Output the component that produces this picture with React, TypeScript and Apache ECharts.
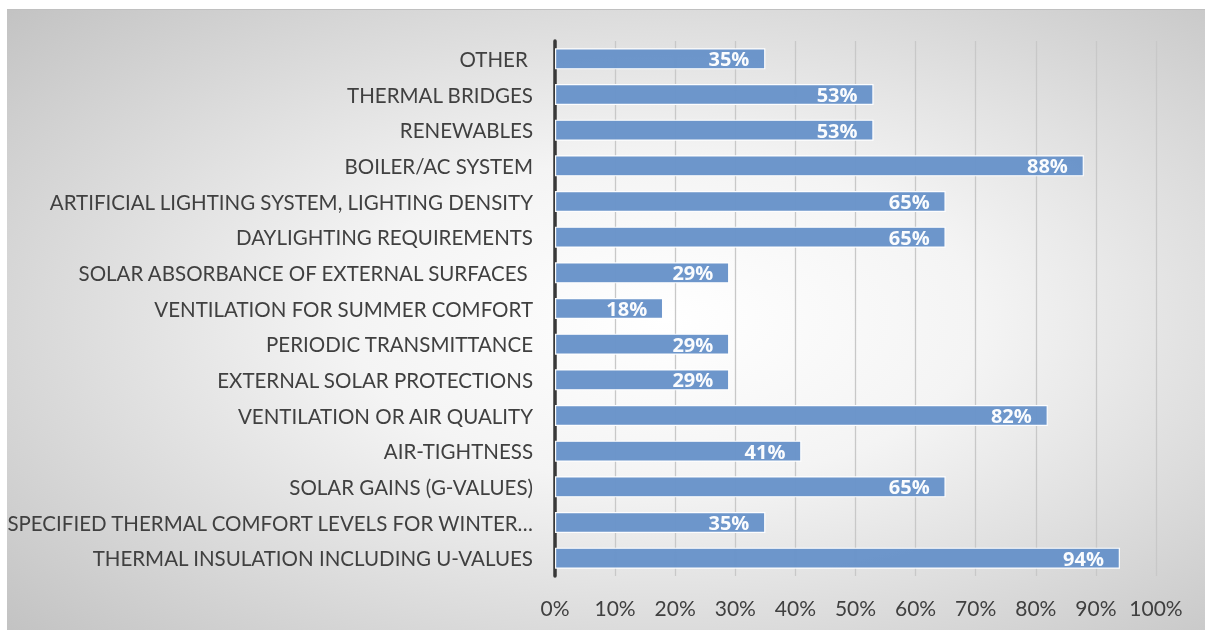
import React, { useEffect, useRef } from "react";
import * as echarts from "echarts";

const categories = [
  "OTHER ",
  "THERMAL BRIDGES",
  "RENEWABLES",
  "BOILER/AC SYSTEM",
  "ARTIFICIAL LIGHTING SYSTEM, LIGHTING DENSITY",
  "DAYLIGHTING REQUIREMENTS",
  "SOLAR ABSORBANCE OF EXTERNAL SURFACES ",
  "VENTILATION FOR SUMMER COMFORT",
  "PERIODIC TRANSMITTANCE",
  "EXTERNAL SOLAR PROTECTIONS",
  "VENTILATION OR AIR QUALITY",
  "AIR-TIGHTNESS",
  "SOLAR GAINS (G-VALUES)",
  "SPECIFIED THERMAL COMFORT LEVELS FOR WINTER…",
  "THERMAL INSULATION INCLUDING U-VALUES",
];
const values = [0.35, 0.53, 0.53, 0.88, 0.65, 0.65, 0.29, 0.18, 0.29, 0.29, 0.82, 0.41, 0.65, 0.35, 0.94];

const FONT = "Lato";

export default function App() {
  const ref = useRef<HTMLDivElement>(null);
  useEffect(() => {
    if (!ref.current) return;
    const chart = echarts.init(ref.current, null, { renderer: "svg" });
    chart.setOption({
      animation: false,
      backgroundColor: {
        type: "radial",
        x: 0.55,
        y: 0.5,
        r: 0.75,
        colorStops: [
          { offset: 0, color: "#ffffff" },
          { offset: 0.35, color: "#f4f4f4" },
          { offset: 1, color: "#c2c2c2" },
        ],
      },
      grid: { left: 548, right: 49, top: 31, bottom: 54, containLabel: false, outerBoundsMode: "none" },
      xAxis: {
        type: "value",
        min: 0,
        max: 1,
        interval: 0.1,
        axisLine: { show: false },
        axisTick: { show: false },
        splitLine: { show: true, lineStyle: { color: "#c8c8c8", width: 1.3 } },
        axisLabel: {
          margin: 21,
          color: "#404040",
          fontFamily: FONT,
          fontSize: 21,
          formatter: (v: number) => Math.round(v * 100) + "%",
        },
      },
      yAxis: {
        type: "category",
        data: categories,
        inverse: true,
        axisLine: { show: true, lineStyle: { color: "#383838", width: 3.5 } },
        axisTick: { show: false },
        axisLabel: {
          margin: 22,
          color: "#404040",
          fontFamily: FONT,
          fontSize: 20.5,
        },
      },
      series: [
        {
          type: "bar",
          data: values,
          barWidth: 21,
          itemStyle: { color: "#6893c9", borderColor: "#ffffff", borderWidth: 1.2, opacity: 0.97 },
          label: {
            show: true,
            position: "insideRight",
            distance: 16,
            color: "#ffffff",
            fontWeight: "bold",
            fontFamily: "Open Sans",
            fontSize: 20,
            formatter: (p: any) => Math.round(p.value * 100) + "%",
          },
        },
      ],
    });
    return () => chart.dispose();
  }, []);
  return (
    <div
      ref={ref}
      style={{
        position: "fixed",
        left: 7,
        top: 9,
        width: 1198,
        height: 621,
        borderTop: "1px solid #c0c0c0",
        boxSizing: "border-box",
      }}
    />
  );
}
